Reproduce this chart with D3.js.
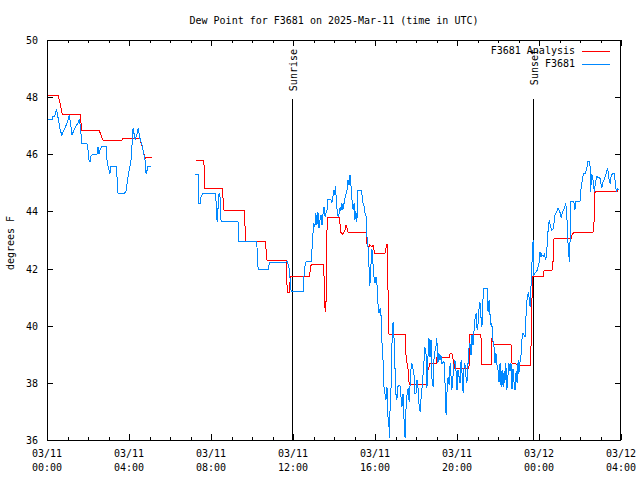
<!DOCTYPE html>
<html>
<head>
<meta charset="utf-8">
<script src="https://cdn.jsdelivr.net/npm/d3@7"></script>
<style>
  html, body { margin: 0; padding: 0; background: #fff; }
  svg { display: block; }
  text { font-family: "DejaVu Sans Mono", "Liberation Mono", monospace; font-size: 10px; fill: #000; }
</style>
</head>
<body>
<svg id="chart" width="640" height="480"></svg>
<script>
// ---- data (minutes after 2025-03-11 00:00 UTC, degrees F) ----
const title = "Dew Point for F3681 on 2025-Mar-11 (time in UTC)";
const yLabel = "degrees F";
const seriesNames = ["F3681 Analysis", "F3681"];
const yTicks = [36, 38, 40, 42, 44, 46, 48, 50];
const xTickLabels = [["03/11", "00:00"], ["03/11", "04:00"], ["03/11", "08:00"], ["03/11", "12:00"],
                     ["03/11", "16:00"], ["03/11", "20:00"], ["03/12", "00:00"], ["03/12", "04:00"]];
const eventNames = ["Sunrise", "Sunset"];
const eventMinutes = [717, 1422];

const analysisMinutes = [
  0, 33, 45, 97, 102, 153, 164, 219, 221, 272, 287, 293, 306,
  370,
  436, 457, 460, 462, 513, 518, 577, 582, 639, 644,
  699, 701, 702, 705, 710, 711, 714, 768, 770, 773,
  808, 811, 814, 817, 820, 855, 858, 860, 866, 872,
  875, 878, 881, 934, 937, 942, 945, 951, 954, 957,
  960, 989, 994, 997, 998, 1001, 1048, 1051, 1057, 1060,
  1112, 1115, 1121, 1139, 1141, 1177, 1180, 1185, 1188, 1194,
  1235, 1238, 1270, 1273, 1300, 1302, 1308, 1358, 1361, 1370,
  1379, 1414, 1417, 1420, 1422, 1452, 1455, 1478, 1481, 1484,
  1534, 1537, 1542, 1598, 1601, 1604, 1668, 1671, 1674
];
const analysisValues = [
  48.07, 48.07, 47.39, 47.39, 46.83, 46.83, 46.49, 46.49, 46.56, 46.56, 45.86, 45.9, 45.9,
  null,
  45.79, 45.79, 45.59, 44.81, 44.81, 44.05, 44.05, 42.96, 42.96, 42.3,
  42.3, 42.24, 41.49, 41.17, 41.17, 41.49, 41.74, 41.74, 41.89, 42.13,
  42.13, 41.7, 40.49, 40.9, 43.78, 43.78, 43.53, 43.26, 43.2, 43.35,
  43.53, 43.41, 43.27, 43.27, 42.79, 42.74, 42.83, 42.77, 42.83, 42.65,
  42.53, 42.53, 42.83, 42.83, 41.3, 39.7, 39.7, 38.92, 38.45, 37.96,
  37.96, 38.45, 38.68, 38.68, 38.88, 38.88, 39.03, 39.03, 38.86, 38.51,
  38.51, 39.68, 39.68, 38.65, 38.65, 39.56, 39.33, 39.33, 38.68, 38.68,
  38.6, 38.6, 39.38, 41.25, 41.74, 41.74, 41.95, 41.95, 42.24, 43.06,
  43.06, 43.18, 43.28, 43.28, 43.64, 44.69, 44.69, 44.77, 44.77
];

const obsMinutes = [
  4, 15, 16, 23, 28, 32, 38, 43, 50, 59,
  65, 69, 73, 79, 85, 91, 95, 98, 102, 117,
  120, 123, 126, 129, 132, 146, 149, 152, 155, 161,
  173, 176, 184, 187, 202, 205, 208, 225, 231, 237,
  246, 252, 258, 263, 267, 272, 278, 287, 290, 296,
  304,
  370,
  433, 442, 443, 448, 451, 457, 494, 495, 498, 500,
  503, 506, 509, 512, 559, 560, 562, 614, 615, 618,
  648, 650, 653, 699, 702, 708, 711, 714, 717, 750,
  752, 755, 758, 775, 776, 779, 781, 784, 787, 790,
  793, 796, 799, 802, 805, 808, 811, 814, 820, 822,
  831, 834, 837, 840, 843, 844, 849, 852, 855, 858,
  860, 863, 866, 872, 878, 881, 884, 887, 890, 893,
  896, 899, 901, 904, 907, 910, 919, 922, 925, 928,
  931, 934, 937, 940, 942, 945, 948, 951, 954, 957,
  960, 963, 966, 969, 972, 975, 978, 980, 983, 986,
  989, 992, 995, 998, 1001, 1002, 1004, 1007, 1010, 1013,
  1016, 1019, 1021, 1024, 1027, 1033, 1036, 1039, 1042, 1045,
  1048, 1051, 1054, 1057, 1060, 1065, 1068, 1074, 1077, 1080,
  1083, 1086, 1089, 1092, 1095, 1098, 1103, 1106, 1109, 1112,
  1115, 1118, 1121, 1124, 1127, 1130, 1133, 1139, 1141, 1144,
  1147, 1150, 1153, 1156, 1162, 1165, 1168, 1171, 1174, 1177,
  1180, 1182, 1185, 1191, 1194, 1197, 1200, 1203, 1209, 1212,
  1215, 1218, 1220, 1223, 1226, 1229, 1232, 1235, 1238, 1241,
  1244, 1247, 1250, 1253, 1256, 1259, 1261, 1264, 1267, 1270,
  1273, 1276, 1279, 1288, 1289, 1291, 1294, 1297, 1300, 1302,
  1305, 1308, 1311, 1314, 1317, 1320, 1323, 1326, 1329, 1332,
  1335, 1338, 1340, 1343, 1346, 1349, 1352, 1355, 1358, 1361,
  1364, 1367, 1370, 1373, 1376, 1379, 1381, 1384, 1387, 1390,
  1393, 1399, 1404, 1409, 1414, 1417, 1420, 1422, 1423, 1425,
  1428, 1435, 1440, 1443, 1446, 1448, 1453, 1456, 1460, 1462,
  1467, 1470, 1474, 1477, 1482, 1487, 1492, 1496, 1501, 1505,
  1509, 1514, 1518, 1521, 1524, 1526, 1529, 1531, 1533, 1542,
  1545, 1548, 1560, 1562, 1565, 1568, 1570, 1575, 1580, 1583,
  1589, 1591, 1594, 1597, 1599, 1602, 1605, 1609, 1619, 1621,
  1624, 1626, 1630, 1634, 1638, 1641, 1644, 1646, 1648, 1651,
  1655, 1660, 1662, 1665, 1667, 1669, 1672
];
const obsValues = [
  47.22, 47.22, 47.34, 47.34, 47.57, 47.3, 46.9, 46.67, 46.85, 47.1,
  47.37, 47.1, 46.67, 46.85, 47.0, 47.1, 47.23, 46.9, 46.38, 46.36,
  46.15, 45.8, 45.74, 45.95, 45.98, 45.98, 46.27, 46.0, 46.15, 46.27,
  46.27, 45.74, 45.3, 45.59, 45.59, 45.2, 44.63, 44.63, 44.69, 45.2,
  45.8, 46.91, 46.5, 46.7, 46.91, 46.56, 46.33, 45.8, 45.3, 45.59,
  45.59,
  null,
  45.31, 45.31, 44.28, 44.28, 44.52, 44.63, 44.63, 44.23, 43.64, 44.0,
  44.58, 44.63, 43.7, 43.64, 43.64, 43.29, 42.94, 42.94, 42.65, 41.97,
  41.97, 42.13, 42.22, 42.22, 42.26, 42.07, 41.72, 41.25, 41.19, 41.19,
  41.72, 42.07, 42.24, 42.24, 42.94, 43.29, 43.58, 43.45, 43.93, 43.53,
  43.99, 43.41, 43.7, 43.88, 43.53, 43.93, 44.17, 43.82, 44.07, 44.42,
  44.42, 44.3, 44.54, 44.75, 44.58, 44.89, 44.05, 43.82, 43.93, 44.15,
  44.0, 44.3, 44.05, 44.46, 44.75, 45.1, 44.93, 45.28, 44.87, 44.34,
  44.05, 44.3, 43.7, 44.0, 43.64, 44.75, 44.75, 44.58, 44.3, 44.17,
  43.93, 43.82, 43.0, 42.7, 42.2, 41.4, 42.1, 42.7, 42.2, 41.7,
  41.5, 41.7, 41.4, 40.73, 40.44, 40.6, 40.32, 39.5, 38.97, 37.87,
  37.63, 37.4, 37.87, 36.82, 36.47, 36.06, 37.05, 37.87, 39.5, 40.14,
  39.5, 38.33, 37.63, 37.4, 37.87, 37.93, 37.52, 37.17, 37.6, 36.7,
  36.06, 37.17, 37.63, 37.81, 37.34, 38.45, 38.68, 38.33, 37.63, 37.63,
  38.1, 37.81, 37.22, 36.99, 37.5, 37.87, 38.68, 39.21, 39.15, 37.81,
  38.92, 39.56, 38.9, 39.5, 38.1, 37.87, 38.92, 39.33, 39.56, 38.68,
  39.03, 38.8, 38.97, 38.68, 38.75, 37.98, 36.88, 37.75, 38.22, 37.93,
  38.68, 38.33, 37.75, 38.63, 38.8, 38.45, 37.75, 38.45, 37.98, 38.8,
  38.3, 37.63, 38.5, 38.68, 38.22, 38.0, 38.63, 39.21, 39.38, 38.97,
  39.68, 39.33, 39.85, 40.26, 40.44, 39.85, 39.97, 40.55, 40.84, 40.32,
  39.97, 40.9, 41.31, 41.31, 40.9, 40.49, 40.9, 40.32, 39.97, 40.1,
  39.5, 39.33, 38.68, 39.03, 38.63, 38.45, 38.04, 38.7, 37.87, 38.45,
  37.87, 38.4, 37.98, 38.68, 37.75, 38.22, 38.68, 38.4, 38.68, 37.8,
  38.5, 38.0, 37.75, 38.4, 38.0, 38.8, 38.3, 38.7, 38.9, 39.5,
  39.73, 39.6, 40.84, 41.19, 40.67, 41.49, 42.36, 42.88, 43.0, 41.78,
  41.83, 41.95, 42.18, 42.59, 42.4, 42.5, 42.42, 42.5, 42.3, 42.5,
  43.41, 43.7, 43.45, 43.35, 43.4, 43.88, 43.99, 44.11, 43.99, 43.76,
  43.99, 44.11, 44.28, 43.99, 43.12, 42.65, 42.24, 43.0, 44.34, 44.34,
  44.05, 44.34, 44.36, 44.69, 44.98, 45.16, 45.33, 45.33, 45.51, 45.74,
  45.74, 44.69, 45.28, 45.22, 44.98, 44.69, 44.98, 45.22, 45.16, 44.98,
  44.81, 44.98, 45.1, 45.22, 45.39, 45.51, 45.22, 45.05, 44.98, 45.22,
  45.33, 45.33, 45.16, 44.81, 44.69, 44.81, 44.75
];

const colors = ["#ff0000", "#0088ff"];

// ---- layout ----
const W = 640, H = 480;
const M = { left: 47, right: 19, top: 40, bottom: 40 };
const t0 = Date.UTC(2025, 2, 11, 0, 0);
const toDate = m => new Date(t0 + m * 60000);

const x = d3.scaleUtc()
  .domain([toDate(0), new Date(Date.UTC(2025, 2, 12, 4, 0))])
  .range([M.left, W - M.right]);
const y = d3.scaleLinear()
  .domain([d3.min(yTicks), d3.max(yTicks)])
  .range([H - M.bottom, M.top]);

const svg = d3.select("#chart");
svg.append("rect").attr("width", W).attr("height", H).attr("fill", "#fff");

const x0 = x.range()[0], x1 = x.range()[1];
const yb = y.range()[0], yt = y.range()[1];

// ticks
const axisG = svg.append("g").attr("stroke", "#000").attr("stroke-width", 1).attr("shape-rendering", "crispEdges");
const minor = x.ticks(d3.utcHour.every(1));
const major = x.ticks(d3.utcHour.every(4));
const majorSet = new Set(major.map(d => +d));
minor.forEach(d => {
  const px = Math.round(x(d)) + 0.5;
  const len = majorSet.has(+d) ? 6 : 3;
  axisG.append("line").attr("x1", px).attr("x2", px).attr("y1", yb).attr("y2", yb - len);
  axisG.append("line").attr("x1", px).attr("x2", px).attr("y1", yt).attr("y2", yt + len);
});
yTicks.forEach(v => {
  const py = Math.round(y(v)) + 0.5;
  axisG.append("line").attr("x1", x0).attr("x2", x0 + 6).attr("y1", py).attr("y2", py);
  axisG.append("line").attr("x1", x1).attr("x2", x1 - 6).attr("y1", py).attr("y2", py);
});

// tick labels
yTicks.forEach(v => {
  svg.append("text").attr("x", 38).attr("y", Math.round(y(v)))
    .attr("text-anchor", "end").attr("dominant-baseline", "central").text(v);
});
major.forEach((d, i) => {
  const lab = xTickLabels[i];
  if (!lab) return;
  const g = svg.append("text").attr("text-anchor", "middle");
  g.append("tspan").attr("x", x(d)).attr("y", 457).text(lab[0]);
  g.append("tspan").attr("x", x(d)).attr("y", 471).text(lab[1]);
});

// sunrise / sunset
eventNames.forEach((name, i) => {
  const px = Math.round(x(toDate(eventMinutes[i]))) + 0.5;
  svg.append("line").attr("x1", px).attr("x2", px).attr("y1", 99).attr("y2", yb)
    .attr("stroke", "#000").attr("stroke-width", 1).attr("shape-rendering", "crispEdges");
  svg.append("text").attr("transform", `translate(${px + 0.5},49) rotate(-90)`)
    .attr("text-anchor", "end").attr("dominant-baseline", "central").text(name);
});

// data lines
const line = d3.line()
  .defined(d => d.v !== null)
  .x(d => x(toDate(d.m)))
  .y(d => y(d.v));
const analysis = analysisMinutes.map((m, i) => ({ m, v: analysisValues[i] }));
const obs = obsMinutes.map((m, i) => ({ m, v: obsValues[i] }));

svg.append("path").datum(analysis).attr("d", line)
  .attr("fill", "none").attr("stroke", colors[0]).attr("stroke-width", 1)
  .attr("shape-rendering", "crispEdges");
svg.append("path").datum(obs).attr("d", line)
  .attr("fill", "none").attr("stroke", colors[1]).attr("stroke-width", 1)
  .attr("shape-rendering", "crispEdges");

// border
svg.append("rect").attr("x", x0 + 0.5).attr("y", yt + 0.5)
  .attr("width", x1 - x0 - 1).attr("height", yb - yt)
  .attr("fill", "none").attr("stroke", "#000").attr("stroke-width", 1).attr("shape-rendering", "crispEdges");

// legend
seriesNames.forEach((name, i) => {
  const ly = 50.5 + i * 13;
  svg.append("text").attr("x", 575).attr("y", ly).attr("text-anchor", "end")
    .attr("dominant-baseline", "central").text(name);
  svg.append("line").attr("x1", 582).attr("x2", 610).attr("y1", Math.round(ly) + 0.5).attr("y2", Math.round(ly) + 0.5)
    .attr("stroke", colors[i]).attr("stroke-width", 1).attr("shape-rendering", "crispEdges");
});

// title & y label
svg.append("text").attr("x", (x0 + x1) / 2).attr("y", 20).attr("text-anchor", "middle")
  .attr("dominant-baseline", "central").text(title);
svg.append("text").attr("transform", `translate(10,243) rotate(-90)`)
  .attr("text-anchor", "middle").attr("dominant-baseline", "central").text(yLabel);
</script>
</body>
</html>
